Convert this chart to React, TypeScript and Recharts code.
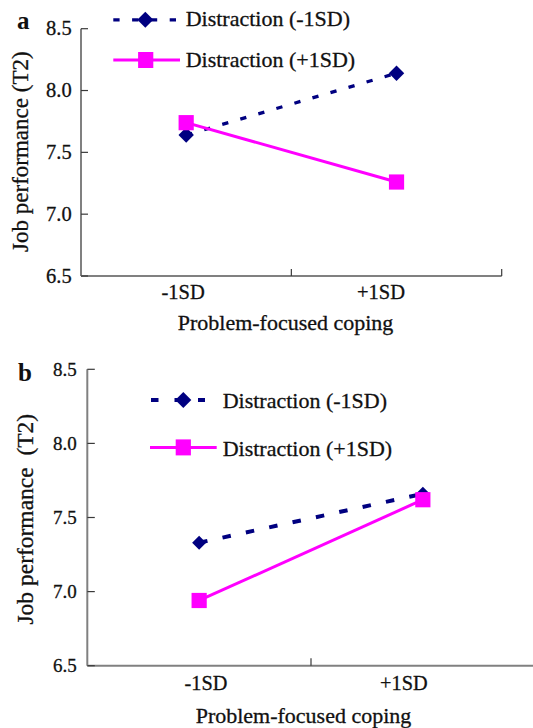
import React from 'react';
import { LineChart, Line, XAxis, YAxis, Legend, Customized } from 'recharts';

// ---------- data ----------
const categories = ['-1SD', '+1SD'];
const yTicks = [6.5, 7.0, 7.5, 8.0, 8.5];
const seriesNames = ['Distraction (-1SD)', 'Distraction (+1SD)'];
const panelLabels = ['a', 'b'];
const yAxisTitles = ['Job performance (T2)', 'Job performance  (T2)'];
const xAxisTitle = 'Problem-focused coping';

const panelALow = [7.64, 8.14];
const panelAHigh = [7.74, 7.26];
const panelBLow = [7.33, 7.66];
const panelBHigh = [6.94, 7.62];

// ---------- styles ----------
const FONT = 'Liberation Serif, Tinos, DejaVu Serif, Times New Roman, serif';
const NAVY = '#000080';
const MAGENTA = '#FF00FF';
const AXIS = '#808080';
const TICK = '#3a3a3a';
const INK = '#111';
const txt = (size: number, bold = false) => ({
  fontFamily: FONT,
  fontSize: size,
  fontWeight: bold ? 700 : 400,
  stroke: INK,
  strokeWidth: bold ? 0 : 0.3,
});

const buildData = (low: number[], high: number[]) =>
  categories.map((c, i) => ({ pos: i + 0.5, cat: c, low: low[i], high: high[i] }));

const xTicks = [
  ...categories.map((_, i) => i + 0.5),
  ...categories.map((_, i) => i + 1),
].sort((a, b) => a - b);

type Cfg = {
  width: number;
  height: number;
  top: number;
  margin: { top: number; right: number; bottom: number; left: number };
  yAxisWidth: number;
  xAxisHeight: number;
  yTickFont: number;
  yTickGap: number;
  yTickDy: number;
  xTickFont: number;
  xTickDy: number;
  xTickDx: number[];
  tickLen: number;
  yTitleX: number;
  yTitleDy: number;
  yTitleFont: number;
  xTitleDx: number;
  xTitleDy: number;
  letter: { x: number; y: number; size: number };
  dash: string;
  dashWidth: number;
  solidWidth: number;
  diamondHalf: number;
  squareHalf: number;
  legend: {
    rows: { y: number; x1: number; x2: number; mx: number; tx: number; ty: number }[];
    dash: string;
    dashWidth: number;
    height: number;
  };
  titleIndex: number;
};

const cfgA: Cfg = {
  width: 533,
  height: 345,
  top: 0,
  margin: { top: 28.7, right: 31.3, bottom: 0, left: 0 },
  yAxisWidth: 81,
  xAxisHeight: 69,
  yTickFont: 20.5,
  yTickGap: 9.3,
  yTickDy: 6.5,
  xTickFont: 20.5,
  xTickDy: 22.5,
  xTickDx: [-3, -15.5],
  tickLen: 7,
  yTitleX: 27.6,
  yTitleDy: -0.7,
  yTitleFont: 23,
  xTitleDx: -5.8,
  xTitleDy: 54,
  letter: { x: 17, y: 29.3, size: 25 },
  dash: '6.3 12.5',
  dashWidth: 3.3,
  solidWidth: 3,
  diamondHalf: 7.7,
  squareHalf: 7.6,
  legend: {
    rows: [
      { y: 19.8, x1: 113.3, x2: 177, mx: 145.3, tx: 185.7, ty: 26.2 },
      { y: 60, x1: 113.3, x2: 180, mx: 145.7, tx: 185.7, ty: 66.7 },
    ],
    dash: '6.3 12.5',
    dashWidth: 3.3,
    height: 80,
  },
  titleIndex: 0,
};

const cfgB: Cfg = {
  width: 540,
  height: 373,
  top: 355,
  margin: { top: 14.3, right: 5.3, bottom: 0, left: 0 },
  yAxisWidth: 87.3,
  xAxisHeight: 62.3,
  yTickFont: 19,
  yTickGap: 10.6,
  yTickDy: 6.4,
  xTickFont: 20.3,
  xTickDy: 24.3,
  xTickDx: [6.8, -19],
  tickLen: 7.5,
  yTitleX: 33.5,
  yTitleDy: 1.7,
  yTitleFont: 23.5,
  xTitleDx: -7.5,
  xTitleDy: 57.6,
  letter: { x: 18, y: 26, size: 25 },
  dash: '8.5 15.4',
  dashWidth: 4,
  solidWidth: 3,
  diamondHalf: 7,
  squareHalf: 7.6,
  legend: {
    rows: [
      { y: 45, x1: 151, x2: 205, mx: 183.3, tx: 222.7, ty: 53.3 },
      { y: 92.4, x1: 150, x2: 216.7, mx: 183.3, tx: 222.7, ty: 101 },
    ],
    dash: '7.5 16',
    dashWidth: 4,
    height: 115,
  },
  titleIndex: 1,
};

const diamondPath = (cx: number, cy: number, h: number) =>
  `M${cx},${cy - h} L${cx + h},${cy} L${cx},${cy + h} L${cx - h},${cy} Z`;

const makeDiamondDot = (h: number) => (props: any) => {
  const { cx, cy, index } = props;
  if (cx == null || cy == null) return <g key={`dd${index}`} />;
  return <path key={`dd${index}`} d={diamondPath(cx, cy, h)} fill={NAVY} />;
};

const makeSquareDot = (h: number) => (props: any) => {
  const { cx, cy, index } = props;
  if (cx == null || cy == null) return <g key={`sd${index}`} />;
  return <rect key={`sd${index}`} x={cx - h} y={cy - h} width={2 * h} height={2 * h} fill={MAGENTA} />;
};

const makeXTick = (cfg: Cfg) => (props: any) => {
  const { x, y, payload } = props;
  const v = payload.value as number;
  if (Number.isInteger(v)) {
    return <line x1={x} y1={y} x2={x} y2={y - cfg.tickLen} stroke={TICK} strokeWidth={1.2} />;
  }
  const idx = Math.floor(v);
  return (
    <text
      x={x + cfg.xTickDx[idx]}
      y={y + cfg.xTickDy}
      textAnchor="middle"
      style={txt(cfg.xTickFont)}
      fill={INK}
    >
      {categories[idx]}
    </text>
  );
};

const makeYTick = (cfg: Cfg) => (props: any) => {
  const { x, y, payload } = props;
  return (
    <g>
      <line x1={x} y1={y} x2={x + cfg.tickLen} y2={y} stroke={TICK} strokeWidth={1.2} />
      <text
        x={x - cfg.yTickGap}
        y={y + cfg.yTickDy}
        textAnchor="end"
        style={txt(cfg.yTickFont)}
        fill={INK}
      >
        {Number(payload.value).toFixed(1)}
      </text>
    </g>
  );
};

const makeYTitle = (cfg: Cfg) => (props: any) => {
  const vb = props.viewBox || { x: 0, y: 0, width: 0, height: 0 };
  const x = vb.x + cfg.yTitleX;
  const y = vb.y + vb.height / 2 + cfg.yTitleDy;
  return (
    <text
      x={x}
      y={y}
      transform={`rotate(-90, ${x}, ${y})`}
      textAnchor="middle"
      fill={INK}
      style={{ ...txt(cfg.yTitleFont), whiteSpace: 'pre' }}
    >
      {yAxisTitles[cfg.titleIndex]}
    </text>
  );
};

const makeXTitle = (cfg: Cfg) => (props: any) => {
  const vb = props.viewBox || { x: 0, y: 0, width: 0, height: 0 };
  return (
    <text
      x={vb.x + vb.width / 2 + cfg.xTitleDx}
      y={vb.y + cfg.xTitleDy}
      textAnchor="middle"
      style={txt(22)}
      fill={INK}
    >
      {xAxisTitle}
    </text>
  );
};

const makeLegend = (cfg: Cfg) => (props: any) => {
  const payload = props.payload || [];
  const order = ['low', 'high'];
  const items = order
    .map((k) => payload.find((p: any) => p.dataKey === k))
    .filter(Boolean);
  return (
    <svg width={533} height={cfg.legend.height} style={{ display: 'block', overflow: 'visible' }}>
      {items.map((item: any, i: number) => {
        const r = cfg.legend.rows[i];
        const isLow = item.dataKey === 'low';
        return (
          <g key={item.dataKey}>
            <line
              x1={r.x1}
              y1={r.y}
              x2={r.x2}
              y2={r.y}
              stroke={item.color}
              strokeWidth={isLow ? cfg.legend.dashWidth : 3}
              strokeDasharray={isLow ? cfg.legend.dash : undefined}
            />
            {isLow ? (
              <path d={diamondPath(r.mx, r.y, 8)} fill={NAVY} />
            ) : (
              <rect x={r.mx - 7.6} y={r.y - 8} width={15.2} height={16} fill={MAGENTA} />
            )}
            <text x={r.tx} y={r.ty} style={txt(22)} fill={INK}>
              {item.value}
            </text>
          </g>
        );
      })}
    </svg>
  );
};

const Panel = ({ cfg, data, letter }: { cfg: Cfg; data: any[]; letter: string }) => (
  <div style={{ position: 'absolute', left: 0, top: cfg.top, fontFamily: FONT }}>
    <LineChart width={cfg.width} height={cfg.height} data={data} margin={cfg.margin}>
      <XAxis
        dataKey="pos"
        type="number"
        domain={[0, categories.length]}
        ticks={xTicks}
        interval={0}
        tickSize={0}
        tickMargin={0}
        tickLine={false}
        tick={makeXTick(cfg)}
        height={cfg.xAxisHeight}
        axisLine={{ stroke: AXIS, strokeWidth: 2 }}
        label={{ content: makeXTitle(cfg) }}
      />
      <YAxis
        type="number"
        domain={[6.5, 8.5]}
        ticks={yTicks}
        interval={0}
        tickSize={0}
        tickMargin={0}
        tickLine={false}
        tick={makeYTick(cfg)}
        width={cfg.yAxisWidth}
        axisLine={{ stroke: AXIS, strokeWidth: 2 }}
        label={{ content: makeYTitle(cfg) }}
      />
      <Legend
        layout="horizontal"
        verticalAlign="middle"
        align="center"
        content={makeLegend(cfg)}
        wrapperStyle={{ left: 0, top: 0, width: 533, height: cfg.legend.height }}
      />
      <Line
        dataKey="low"
        name={seriesNames[0]}
        type="linear"
        stroke={NAVY}
        strokeWidth={cfg.dashWidth}
        strokeDasharray={cfg.dash}
        dot={makeDiamondDot(cfg.diamondHalf)}
        activeDot={false}
        isAnimationActive={false}
      />
      <Line
        dataKey="high"
        name={seriesNames[1]}
        type="linear"
        stroke={MAGENTA}
        strokeWidth={cfg.solidWidth}
        dot={makeSquareDot(cfg.squareHalf)}
        activeDot={false}
        isAnimationActive={false}
      />
      <Customized
        component={() => (
          <text x={cfg.letter.x} y={cfg.letter.y} style={txt(cfg.letter.size, true)} fill={INK}>
            {letter}
          </text>
        )}
      />
    </LineChart>
  </div>
);

export default function App() {
  const dataA = buildData(panelALow, panelAHigh);
  const dataB = buildData(panelBLow, panelBHigh);
  return (
    <div
      style={{
        position: 'absolute',
        left: 0,
        top: 0,
        width: 533,
        height: 728,
        overflow: 'hidden',
        background: '#fff',
        fontFamily: FONT,
      }}
    >
      <Panel cfg={cfgA} data={dataA} letter={panelLabels[0]} />
      <Panel cfg={cfgB} data={dataB} letter={panelLabels[1]} />
    </div>
  );
}
